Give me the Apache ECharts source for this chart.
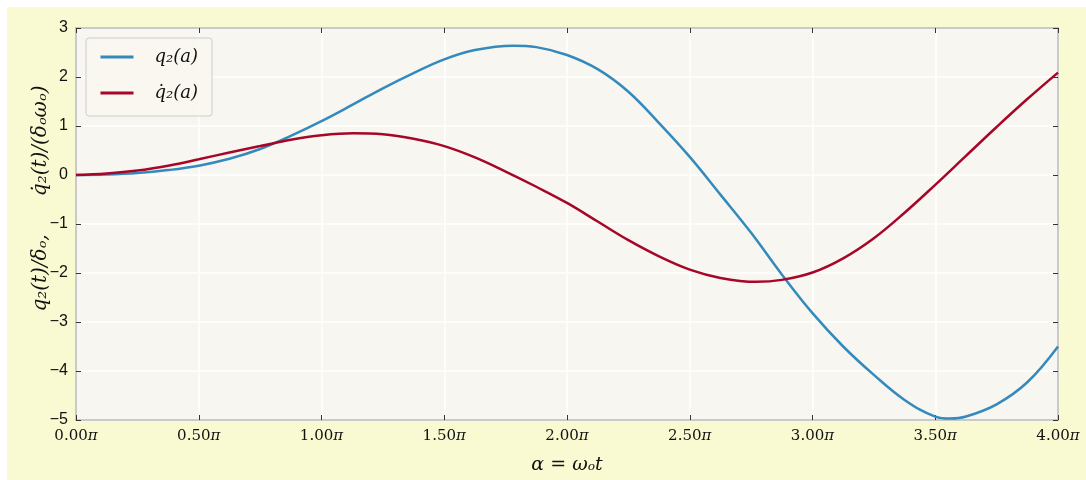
<!DOCTYPE html>
<html>
<head>
<meta charset="utf-8">
<script src="https://cdn.jsdelivr.net/npm/echarts@6/dist/echarts.min.js"></script>
<style>html,body{margin:0;padding:0;background:#fff;}#c{width:1086px;height:480px;}</style>
</head>
<body>
<div id="c"></div>
<script>
var alphaQ = [0,0.125,0.25,0.375,0.5,0.625,0.75,0.875,1.0,1.125,1.25,1.375,1.5,1.625,1.78,1.875,2.0,2.125,2.25,2.375,2.5,2.625,2.75,2.875,3.0,3.125,3.25,3.375,3.5,3.56,3.625,3.75,3.875,4.0];
var q2 = [0,0.01,0.04,0.10,0.19,0.33,0.53,0.80,1.10,1.43,1.77,2.08,2.36,2.55,2.64,2.61,2.45,2.16,1.70,1.06,0.37,-0.40,-1.18,-2.03,-2.82,-3.50,-4.08,-4.59,-4.93,-4.97,-4.93,-4.68,-4.23,-3.50];
var alphaQd = [0,0.125,0.25,0.375,0.5,0.625,0.75,0.875,1.0,1.13,1.25,1.375,1.5,1.625,1.75,1.875,2.0,2.125,2.25,2.375,2.5,2.625,2.77,2.875,3.0,3.125,3.25,3.375,3.5,3.625,3.75,3.875,4.0];
var q2dot = [0,0.03,0.09,0.19,0.32,0.46,0.59,0.72,0.81,0.85,0.83,0.74,0.59,0.36,0.07,-0.24,-0.57,-0.95,-1.33,-1.66,-1.93,-2.10,-2.18,-2.14,-1.99,-1.70,-1.29,-0.77,-0.20,0.39,0.98,1.55,2.09];
var xTicks = [0,0.5,1,1.5,2,2.5,3,3.5,4];
var yTicks = [-5,-4,-3,-2,-1,0,1,2,3];
var names = ['q\u2082(a)', 'q\u0307\u2082(a)'];

function pairs(xs, ys){ return xs.map(function(x,i){return [x, ys[i]];}); }

var chart = echarts.init(document.getElementById('c'));
var serif = '"DejaVu Serif", "Liberation Serif", serif';
var axisGray = '#bcbcbc';
var tickCol = '#333';
chart.setOption({
  backgroundColor: '#ffffff',
  animation: false,
  graphic: [{type:'rect', z:-10, shape:{x:7,y:7,width:1079,height:473}, style:{fill:'#fafad2'}}],
  grid: {left:76, right:28, top:28, bottom:60, show:true, backgroundColor:'#f7f6f0', borderColor:axisGray, borderWidth:1.5},
  legend: {
    orient:'vertical', left:86, top:38,
    padding:[10,14,14,13], itemGap:18, itemWidth:33, itemHeight:14,
    backgroundColor:'rgba(248,247,240,0.9)', borderColor:'#cccccc', borderWidth:1, borderRadius:3,
    itemStyle:{opacity:0}, lineStyle:{width:3},
    textStyle:{fontFamily:serif, fontStyle:'italic', fontSize:18, color:'#111', padding:[0,0,0,16]},
    data: names
  },
  xAxis: [{
    type:'value', min:0, max:4, interval:0.5, position:'bottom',
    axisLine:{show:true, onZero:false, lineStyle:{color:axisGray, width:1.5}},
    axisTick:{show:true, inside:true, length:5, lineStyle:{color:tickCol}},
    axisLabel:{fontFamily:serif, fontSize:15, color:'#111', margin:9,
      formatter:function(v){return '{n|'+v.toFixed(2)+'}{p|\u03c0}';},
      rich:{n:{fontFamily:serif, fontSize:15, color:'#111'}, p:{fontFamily:serif, fontStyle:'italic', fontSize:15, color:'#111'}}},
    splitLine:{show:true, lineStyle:{color:'#ffffff', width:1.5}},
    name:'\u03b1 = \u03c9\u2092t', nameLocation:'middle', nameGap:36,
    nameTextStyle:{fontFamily:serif, fontStyle:'italic', fontSize:19, color:'#111'}
  },{
    type:'value', min:0, max:4, interval:0.5, position:'top',
    axisLine:{show:true, onZero:false, lineStyle:{color:axisGray, width:1.5}},
    axisTick:{show:true, inside:true, length:5, lineStyle:{color:tickCol}},
    axisLabel:{show:false}, splitLine:{show:false}
  }],
  yAxis: [{
    type:'value', min:-5, max:3, interval:1, position:'left',
    axisLine:{show:true, onZero:false, lineStyle:{color:axisGray, width:1.5}},
    axisTick:{show:true, inside:true, length:5, lineStyle:{color:tickCol}},
    axisLabel:{fontFamily:'Liberation Sans', fontSize:16, color:'#111', margin:8, formatter:function(v){return String(v).replace('-','\u2212');}},
    splitLine:{show:true, lineStyle:{color:'#ffffff', width:1.5}},
    name:'        q\u2082(t)/\u03b4\u2092,      q\u0307\u2082(t)/(\u03b4\u2092\u03c9\u2092)', nameLocation:'middle', nameGap:25, nameMoveOverlap:false,
    nameTextStyle:{fontFamily:serif, fontStyle:'italic', fontSize:20, color:'#111'}
  },{
    type:'value', min:-5, max:3, interval:1, position:'right',
    axisLine:{show:true, onZero:false, lineStyle:{color:axisGray, width:1.5}},
    axisTick:{show:true, inside:true, length:5, lineStyle:{color:tickCol}},
    axisLabel:{show:false}, splitLine:{show:false}
  }],
  series: [
    {name:names[0], type:'line', data:pairs(alphaQ,q2), smooth:0.4, symbol:'none', lineStyle:{color:'#348ABD', width:2.5}, itemStyle:{color:'#348ABD'}},
    {name:names[1], type:'line', data:pairs(alphaQd,q2dot), smooth:0.4, symbol:'none', lineStyle:{color:'#A60628', width:2.5}, itemStyle:{color:'#A60628'}}
  ]
});
</script>
</body>
</html>
